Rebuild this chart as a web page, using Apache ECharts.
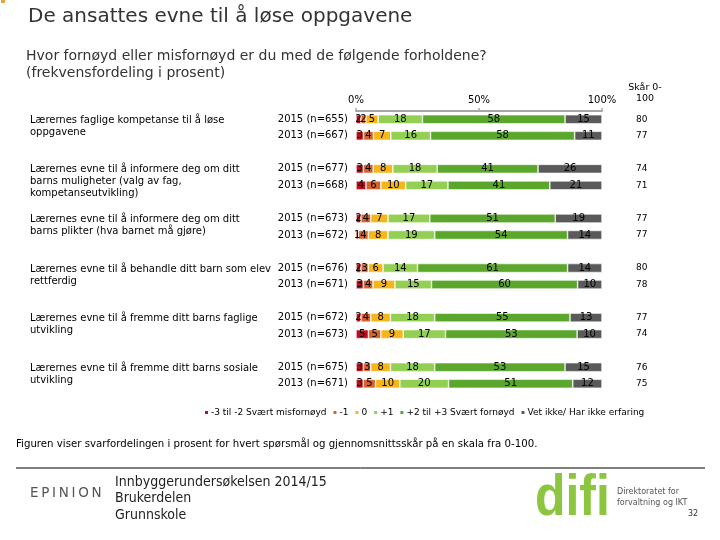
<!DOCTYPE html>
<html><head><meta charset="utf-8">
<script src="https://cdn.jsdelivr.net/npm/echarts@6/dist/echarts.min.js"></script>
<style>html,body{margin:0;padding:0;background:#fff}#c{width:720px;height:540px}</style>
</head><body><div id="c"></div>
<script>
const questions = [
  'Lærernes faglige kompetanse til å løse\noppgavene',
  'Lærernes evne til å informere deg om ditt\nbarns muligheter (valg av fag,\nkompetanseutvikling)',
  'Lærernes evne til å informere deg om ditt\nbarns plikter (hva barnet må gjøre)',
  'Lærernes evne til å behandle ditt barn som elev\nrettferdig',
  'Lærernes evne til å fremme ditt barns faglige\nutvikling',
  'Lærernes evne til å fremme ditt barns sosiale\nutvikling'
];
const yearLabels = ['2015 (n=655)','2013 (n=667)','2015 (n=677)','2013 (n=668)','2015 (n=673)','2013 (n=672)',
  '2015 (n=676)','2013 (n=671)','2015 (n=672)','2013 (n=673)','2015 (n=675)','2013 (n=671)'];
const seriesNames = ['-3 til -2 Svært misfornøyd','-1','0','+1','+2 til +3 Svært fornøyd','Vet ikke/ Har ikke erfaring'];
const neg3     = [2,3,3,4,2,1,2,3,2,5,3,3];
const neg1     = [2,4,4,6,4,4,3,4,4,5,3,5];
const zero     = [5,7,8,10,7,8,6,9,8,9,8,10];
const pos1     = [18,16,18,17,17,19,14,15,18,17,18,20];
const pos23    = [58,58,41,41,51,54,61,60,55,53,53,51];
const dontKnow = [15,11,26,21,19,14,14,10,13,10,15,12];
const scores   = [80,77,74,71,77,77,80,78,77,74,76,75];
const xTicks = [0,50,100];

const colors = ['#c00d1e','#d4622b','#f6b619','#92cf52','#5aa72c','#5a5a5a'];
const FONT = 'DejaVu Sans';

const chart = echarts.init(document.getElementById('c'), null, {renderer:'canvas'});
const slots = [];
for (let g = 0; g < questions.length; g++) { slots.push(2*g, 2*g+1); if (g < questions.length-1) slots.push(null); }
const values = [neg3, neg1, zero, pos1, pos23, dontKnow];
const rowSum = i => values.reduce((s,a)=>s+a[i],0);

const series = seriesNames.map((name,k)=>({
  name, type:'bar', stack:'all', barWidth:9,
  itemStyle:{color:colors[k], borderColor:'#fff', borderWidth:0.6},
  label:{show:true, position:'inside', color:'#000', fontSize:10, fontFamily:FONT, formatter: p => p.data.raw},
  emphasis:{disabled:true},
  data: slots.map(r => r===null ? {value:'-', raw:''} : {value: values[k][r]/rowSum(r)*100, raw: values[k][r]})
}));

chart.setOption({
  animation:false,
  textStyle:{fontFamily:FONT},
  grid:{left:356, right:118, top:111, height:281},
  legend:{top:408, left:203, itemWidth:5, itemHeight:5, itemGap:5, icon:'rect', padding:0,
    textStyle:{fontSize:9, fontFamily:FONT, color:'#000', padding:[0,0,0,-3]}, data:seriesNames},
  xAxis:{type:'value', position:'top', min:0, max:100, interval:50,
    axisLine:{show:true, lineStyle:{color:'#a6a6a6', width:2}},
    axisTick:{show:true, length:3, lineStyle:{color:'#a6a6a6', width:1.5}},
    splitLine:{show:false},
    axisLabel:{formatter: v => xTicks.includes(v) ? v+'%' : '', fontSize:10, color:'#000', margin:6, fontFamily:FONT}},
  yAxis:[
    {type:'category', inverse:true, data: slots.map(r => r===null ? '' : yearLabels[r]),
      axisLine:{show:false}, axisTick:{show:false},
      axisLabel:{fontSize:10, color:'#000', margin:8, fontFamily:FONT, interval:0}},
    {type:'category', inverse:true, position:'right', data: slots.map(r => r===null ? '' : String(scores[r])),
      axisLine:{show:false}, axisTick:{show:false},
      axisLabel:{fontSize:9, color:'#000', margin:34, align:'left', fontFamily:FONT, interval:0}}
  ],
  series
});

const qEls = questions.map((q,g) => {
  const y = chart.convertToPixel({yAxisIndex:0}, 3*g);
  return {type:'text', left:30, top: y - 5, style:{text:q, fontSize:10, lineHeight:12, fill:'#000', fontFamily:FONT}};
});

chart.setOption({graphic:{elements:[
  {type:'rect', shape:{x:1, y:0, width:4, height:3}, style:{fill:'#e8a33c'}},
  {type:'text', left:28, top:7, style:{text:'De ansattes evne til å løse oppgavene', fontSize:20, fill:'#333', fontFamily:FONT}},
  {type:'text', left:26, top:48, style:{text:'Hvor fornøyd eller misfornøyd er du med de følgende forholdene?\n(frekvensfordeling i prosent)', fontSize:14, lineHeight:17, fill:'#333', fontFamily:FONT}},
  {type:'text', x:645, y:82, style:{text:'Skår 0-\n100', fontSize:9.5, lineHeight:11, fill:'#000', align:'center', fontFamily:FONT}},
  ...qEls,
  {type:'text', left:16, top:439, style:{text:'Figuren viser svarfordelingen i prosent for hvert spørsmål og gjennomsnittsskår på en skala fra 0-100.', fontSize:10.2, fill:'#000', fontFamily:FONT}},
  {type:'line', shape:{x1:16, y1:468, x2:705, y2:468}, style:{stroke:'#000', lineWidth:1}},
  {type:'text', left:30, top:486, style:{text:'E\u2009P\u2009I\u2009N\u2009I\u2009O\u2009N', fontSize:13.5, fill:'#555', fontFamily:FONT}},
  {type:'text', left:115, top:474, style:{text:'Innbyggerundersøkelsen 2014/15\nBrukerdelen\nGrunnskole', fontSize:14, lineHeight:16.5, fill:'#222', fontFamily:'DejaVu Sans Condensed'}},
  {type:'text', x:535, y:470, scaleX:0.86, style:{x:0, y:0, text:'difi', fontSize:58, fontWeight:'bold', fill:'#8cc63e', fontFamily:'Liberation Sans', verticalAlign:'top'}},
  {type:'text', left:617, top:486, style:{text:'Direktoratet for\nforvaltning og IKT', fontSize:8, lineHeight:11, fill:'#555', fontFamily:FONT}},
  {type:'text', left:688, top:510, style:{text:'32', fontSize:8, fill:'#333', fontFamily:FONT}}
]}});
</script></body></html>
